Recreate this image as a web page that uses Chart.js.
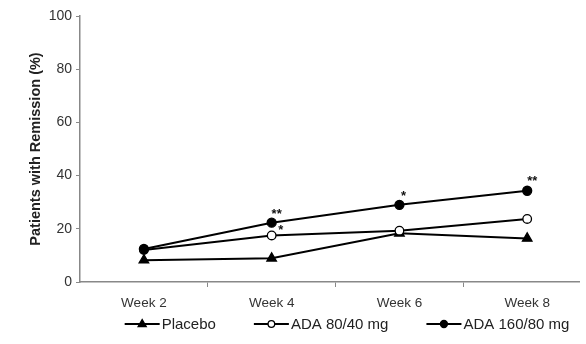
<!DOCTYPE html>
<html>
<head>
<meta charset="utf-8">
<script src="https://cdn.jsdelivr.net/npm/chart.js@4/dist/chart.umd.min.js"></script>
<style>
html,body{margin:0;padding:0;background:#fff;}
#wrap{width:586px;height:344px;position:relative;}
</style>
</head>
<body>
<div id="wrap"><canvas id="c" width="586" height="344"></canvas></div>
<script>
const weeks = ['Week 2', 'Week 4', 'Week 6', 'Week 8'];
const seriesNames = ['Placebo', 'ADA 80/40 mg', 'ADA 160/80 mg'];
const placebo = [8.2, 8.9, 18.3, 16.4];
const ada8040 = [12.0, 17.5, 19.3, 23.7];
const ada16080 = [12.4, 22.3, 29.0, 34.3];
const yTicks = [0, 20, 40, 60, 80, 100];
// significance marks: [series index, week index, text]
const marks = [[2, 1, '**'], [1, 1, '*'], [2, 2, '*'], [2, 3, '**']];
const markOffsets = [[5, -8], [9, -5], [4, -8], [5, -9]];

const FONT = "'Liberation Sans', Arial, sans-serif";
const toPts = arr => arr.map((v, i) => ({x: i, y: v}));

const styles = [
  {pointStyle: 'triangle', radius: 5.5, fill: '#000'},
  {pointStyle: 'circle', radius: 4.3, fill: '#fff'},
  {pointStyle: 'circle', radius: 4.5, fill: '#000'}
];
const seriesData = [placebo, ada8040, ada16080];

const datasets = seriesData.map((arr, k) => ({
  label: seriesNames[k],
  data: toPts(arr),
  borderColor: '#000',
  borderWidth: 2,
  pointStyle: styles[k].pointStyle,
  pointRadius: styles[k].radius,
  pointBackgroundColor: styles[k].fill,
  pointBorderColor: '#000',
  pointBorderWidth: 1.3,
  tension: 0,
  order: 3 - k
}));

const extras = {
  id: 'extras',
  afterDatasetsDraw(chart) {
    const ctx = chart.ctx;
    const xs = chart.scales.x, ys = chart.scales.y;
    ctx.save();
    ctx.fillStyle = '#111';
    ctx.font = 'bold 13px ' + FONT;
    ctx.textAlign = 'center';
    ctx.textBaseline = 'middle';
    marks.forEach(([s, i, t], m) => {
      const px = xs.getPixelForValue(i);
      const py = ys.getPixelForValue(seriesData[s][i]);
      ctx.fillText(t, px + markOffsets[m][0], py + markOffsets[m][1]);
    });
    ctx.restore();
  },
  afterDraw(chart) {
    // legend
    const ctx = chart.ctx;
    ctx.save();
    ctx.font = '15px ' + FONT;
    ctx.textBaseline = 'middle';
    const lineLen = 35, gap = 2, spacing = 38;
    const widths = seriesNames.map(n => lineLen + gap + ctx.measureText(n).width);
    const total = widths.reduce((a, b) => a + b, 0) + spacing * (widths.length - 1);
    let x = 347 - total / 2;
    const y = 324;
    seriesNames.forEach((n, k) => {
      ctx.strokeStyle = '#000';
      ctx.lineWidth = 2;
      ctx.beginPath();
      ctx.moveTo(x, y); ctx.lineTo(x + lineLen, y); ctx.stroke();
      const cx = x + lineLen / 2;
      ctx.lineWidth = 1.3;
      ctx.fillStyle = styles[k].fill;
      const r = styles[k].radius - 1;
      ctx.beginPath();
      if (styles[k].pointStyle === 'triangle') {
        ctx.moveTo(cx, y - r); ctx.lineTo(cx + r * 0.9, y + r * 0.55); ctx.lineTo(cx - r * 0.9, y + r * 0.55); ctx.closePath();
      } else {
        ctx.arc(cx, y, r, 0, Math.PI * 2);
      }
      ctx.fill(); ctx.stroke();
      ctx.fillStyle = '#222';
      ctx.fillText(n, x + lineLen + gap, y + 1);
      x += widths[k] + spacing;
    });
    ctx.restore();
  }
};

new Chart(document.getElementById('c'), {
  type: 'line',
  data: {datasets},
  plugins: [extras],
  options: {
    responsive: false,
    animation: false,
    layout: {padding: {top: 16, right: 0, left: 0, bottom: 0}},
    plugins: {legend: {display: false}, tooltip: {enabled: false}},
    scales: {
      x: {
        type: 'linear',
        min: -0.5,
        max: 3.407,
        afterBuildTicks: s => { s.ticks = [0, 0.5, 1, 1.5, 2, 2.5, 3].map(v => ({value: v})); },
        afterFit: s => { s.height = 62; },
        ticks: {
          autoSkip: false, maxRotation: 0, minRotation: 0,
          padding: 8,
          color: '#333',
          font: {family: FONT, size: 13.5},
          callback: v => Number.isInteger(v) ? weeks[v] : ''
        },
        grid: {
          drawOnChartArea: false,
          tickLength: 5,
          tickWidth: 1,
          tickColor: c => (c.tick && Number.isInteger(c.tick.value)) ? 'rgba(0,0,0,0)' : '#888'
        },
        border: {color: '#888', width: 1.5}
      },
      y: {
        min: 0, max: 100,
        afterBuildTicks: s => { s.ticks = yTicks.map(v => ({value: v})); },
        afterFit: s => { s.width = 80; },
        ticks: {
          padding: 4,
          color: '#333',
          font: {family: FONT, size: 14}
        },
        grid: {drawOnChartArea: false, tickLength: 4, tickColor: '#888'},
        border: {color: '#888', width: 1.5},
        title: {
          display: true,
          text: 'Patients with Remission (%)',
          color: '#222',
          font: {family: FONT, size: 14.5, weight: 'bold'},
          padding: {top: 27, bottom: 0}
        }
      }
    }
  }
});
</script>
</body>
</html>
